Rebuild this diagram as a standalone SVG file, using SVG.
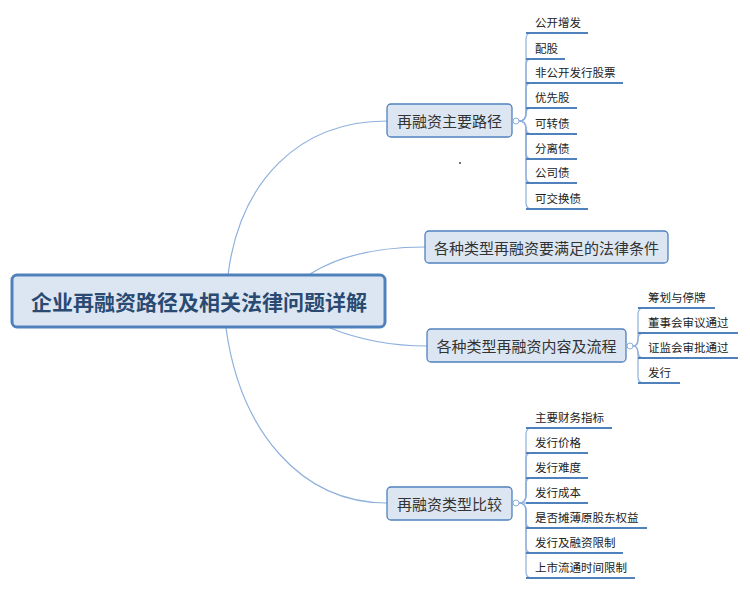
<svg xmlns="http://www.w3.org/2000/svg" width="750" height="590" viewBox="0 0 750 590">
<style>
.bg{fill:#ffffff}
.root{fill:#dce6f2;stroke:#4f81bd;stroke-width:3}
.rt{font-family:"Noto Sans CJK SC","Liberation Sans",sans-serif;font-size:21px;font-weight:bold;fill:#2a4a72;text-anchor:middle;dominant-baseline:central}
.br{fill:#dce6f2;stroke:#4f81bd;stroke-width:1.3}
.bt{font-family:"Noto Sans CJK SC","Liberation Sans",sans-serif;font-size:15px;fill:#333333;text-anchor:middle;dominant-baseline:central}
.lt{font-family:"Noto Sans CJK SC","Liberation Sans",sans-serif;font-size:11.5px;fill:#222222;dominant-baseline:central}
.ul{stroke:#4f81bd;stroke-width:2;fill:none}
.cn{stroke:#8eb0dc;stroke-width:1.2;fill:none}
.knob{fill:#ffffff;stroke:#8eb0dc;stroke-width:1}
</style>
<rect class="bg" x="0" y="0" width="750" height="590"/>
<g id="connectors">
<path class="cn" d="M228,275 C240,180 300,121 387,121"/>
<path class="cn" d="M310,274 C340,255 380,247 425,247"/>
<path class="cn" d="M330,328 C360,340 390,346 427,346"/>
<path class="cn" d="M226,328 C240,430 300,503 387,503"/>
<path class="cn" d="M519,121 Q526,121 526,113 L526,39 Q526,33 532,33"/>
<path class="cn" d="M519,121 Q526,121 526,113 L526,65 Q526,59 532,59"/>
<path class="cn" d="M519,121 Q526,121 526,113 L526,89 Q526,83 532,83"/>
<path class="cn" d="M519,121 Q526,121 526,114 Q526,108 532,108"/>
<path class="cn" d="M519,121 Q526,121 526,128 Q526,134 532,134"/>
<path class="cn" d="M519,121 Q526,121 526,129 L526,153 Q526,159 532,159"/>
<path class="cn" d="M519,121 Q526,121 526,129 L526,177 Q526,183 532,183"/>
<path class="cn" d="M519,121 Q526,121 526,129 L526,203 Q526,209 532,209"/>
<path class="cn" d="M633,346 Q638,346 638,338 L638,314 Q638,308 644,308"/>
<path class="cn" d="M633,346 Q638,346 638,340 Q638,333 644,333"/>
<path class="cn" d="M633,346 Q638,346 638,352 Q638,358 644,358"/>
<path class="cn" d="M633,346 Q638,346 638,354 L638,377 Q638,383 644,383"/>
<path class="cn" d="M519,503 Q526,503 526,495 L526,434 Q526,428 532,428"/>
<path class="cn" d="M519,503 Q526,503 526,495 L526,459 Q526,453 532,453"/>
<path class="cn" d="M519,503 Q526,503 526,495 L526,484 Q526,478 532,478"/>
<path class="cn" d="M519,503 L532,503"/>
<path class="cn" d="M519,503 Q526,503 526,511 L526,522 Q526,528 532,528"/>
<path class="cn" d="M519,503 Q526,503 526,511 L526,547 Q526,553 532,553"/>
<path class="cn" d="M519,503 Q526,503 526,511 L526,572 Q526,578 532,578"/>
</g>
<g id="root">
<rect class="root" x="12" y="275" width="373" height="52" rx="5"/>
<text class="rt" x="199" y="301">企业再融资路径及相关法律问题详解</text>
</g>
<g id="b1">
<rect class="br" x="387" y="104" width="125" height="33" rx="4"/>
<text class="bt" x="449.5" y="120.5">再融资主要路径</text>
<circle class="knob" cx="516" cy="121" r="3"/>
</g>
<g id="b1l1"><path class="ul" d="M526,33 H588"/><text class="lt" x="535" y="22">公开增发</text></g>
<g id="b1l2"><path class="ul" d="M526,59 H565"/><text class="lt" x="535" y="48">配股</text></g>
<g id="b1l3"><path class="ul" d="M526,83 H623"/><text class="lt" x="535" y="72">非公开发行股票</text></g>
<g id="b1l4"><path class="ul" d="M526,108 H577"/><text class="lt" x="535" y="97">优先股</text></g>
<g id="b1l5"><path class="ul" d="M526,134 H577"/><text class="lt" x="535" y="123">可转债</text></g>
<g id="b1l6"><path class="ul" d="M526,159 H577"/><text class="lt" x="535" y="148">分离债</text></g>
<g id="b1l7"><path class="ul" d="M526,183 H577"/><text class="lt" x="535" y="172">公司债</text></g>
<g id="b1l8"><path class="ul" d="M526,209 H588"/><text class="lt" x="535" y="198">可交换债</text></g>
<circle cx="460" cy="163" r="0.9" fill="#333"/>
<g id="b2">
<rect class="br" x="425" y="231" width="243" height="32" rx="4"/>
<text class="bt" x="546.5" y="247">各种类型再融资要满足的法律条件</text>
</g>
<g id="b3">
<rect class="br" x="427" y="329" width="199" height="33" rx="4"/>
<text class="bt" x="526.5" y="345.5">各种类型再融资内容及流程</text>
<circle class="knob" cx="630" cy="346" r="3"/>
</g>
<g id="b3l1"><path class="ul" d="M638,308 H715"/><text class="lt" x="648" y="297">筹划与停牌</text></g>
<g id="b3l2"><path class="ul" d="M638,333 H738"/><text class="lt" x="648" y="322">董事会审议通过</text></g>
<g id="b3l3"><path class="ul" d="M638,358 H738"/><text class="lt" x="648" y="347">证监会审批通过</text></g>
<g id="b3l4"><path class="ul" d="M638,383 H680"/><text class="lt" x="648" y="372">发行</text></g>
<g id="b4">
<rect class="br" x="387" y="487" width="125" height="33" rx="4"/>
<text class="bt" x="449.5" y="503.5">再融资类型比较</text>
<circle class="knob" cx="516" cy="503" r="3"/>
</g>
<g id="b4l1"><path class="ul" d="M526,428 H612"/><text class="lt" x="535" y="417">主要财务指标</text></g>
<g id="b4l2"><path class="ul" d="M526,453 H588"/><text class="lt" x="535" y="442">发行价格</text></g>
<g id="b4l3"><path class="ul" d="M526,478 H588"/><text class="lt" x="535" y="467">发行难度</text></g>
<g id="b4l4"><path class="ul" d="M526,503 H588"/><text class="lt" x="535" y="492">发行成本</text></g>
<g id="b4l5"><path class="ul" d="M526,528 H647"/><text class="lt" x="535" y="517">是否摊薄原股东权益</text></g>
<g id="b4l6"><path class="ul" d="M526,553 H623"/><text class="lt" x="535" y="542">发行及融资限制</text></g>
<g id="b4l7"><path class="ul" d="M526,578 H635"/><text class="lt" x="535" y="567">上市流通时间限制</text></g>
</svg>
